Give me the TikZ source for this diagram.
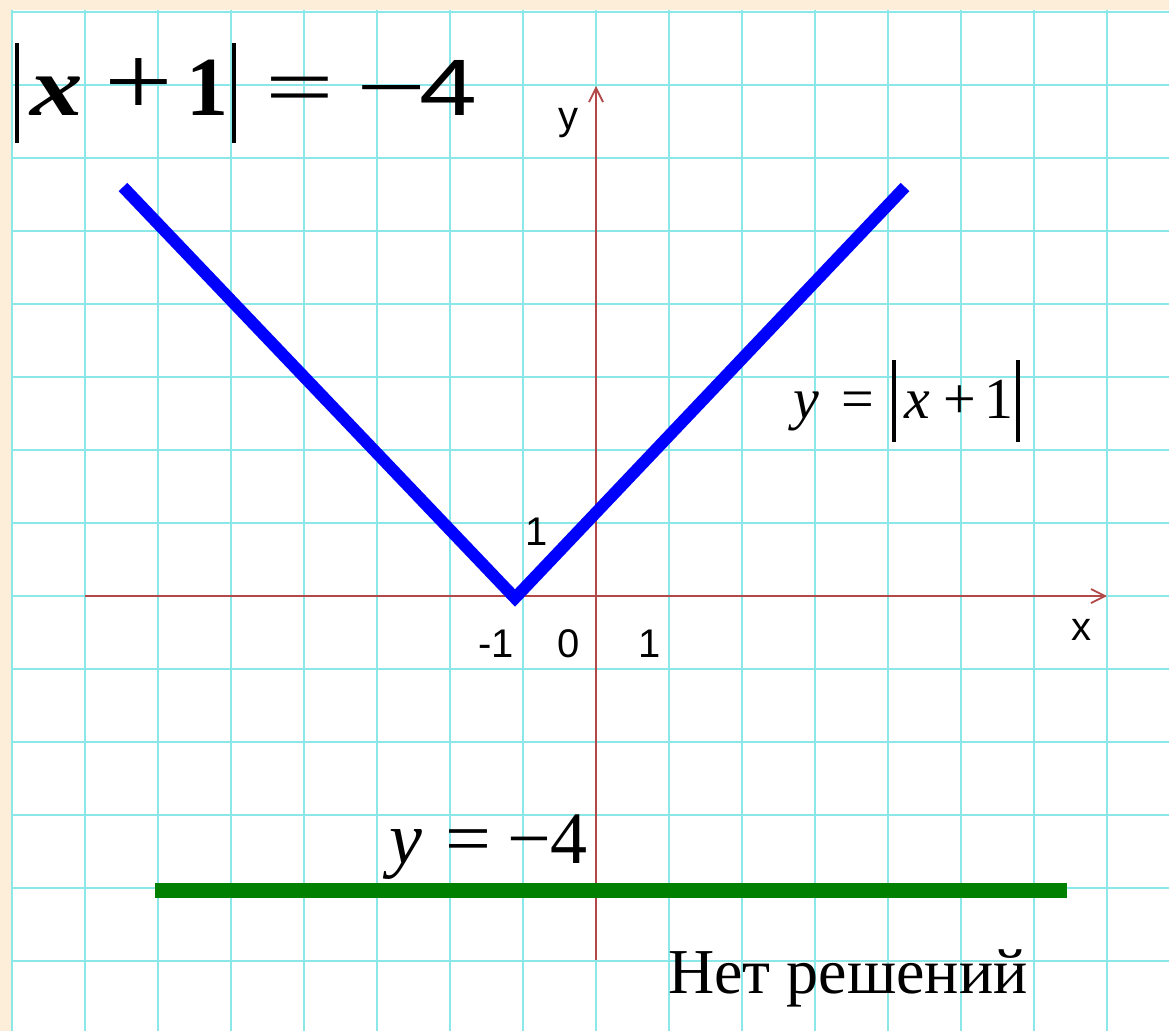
\documentclass[tikz,border=0pt]{standalone}
\usepackage{fontspec}
\usepackage{graphicx}
\setmainfont{Liberation Serif}
\newfontfamily\arialf{Liberation Sans}
\usetikzlibrary{arrows.meta}
\definecolor{peach}{RGB}{252,238,216}
\definecolor{gridc}{RGB}{140,232,232}
\definecolor{axisc}{RGB}{178,72,72}
\definecolor{vblue}{RGB}{0,0,255}
\definecolor{hgreen}{RGB}{0,128,0}
\tikzset{
  gridline/.style={draw=gridc, line width=2.6pt},
  axisline/.style={draw=axisc, line width=2.6pt, -{Straight Barb[length=14pt,width=14pt,line width=1.8pt]}},
  axislbl/.style={font=\arialf\fontsize{40}{44}\selectfont, inner sep=0pt, anchor=base},
  graphline/.style={draw=vblue, line width=12pt, line join=miter},
  greenline/.style={draw=hgreen, line width=15pt},
}
\newcommand{\mybar}[2]{\rule[-#1pt]{4.5pt}{#2pt}}
\begin{document}
\begin{tikzpicture}[x=1pt,y=-1pt]
\useasboundingbox (0,0) rectangle (1169,1031);
\fill[peach] (0,0) rectangle (1169,1031);
\fill[white] (12,10) rectangle (1169,1031);
% grid
\foreach \k in {0,...,15} {
  \draw[gridline] ({12+73*\k},10) -- ({12+73*\k},1031);
}
\foreach \k in {0,...,14} {
  \draw[gridline] (12,{12+73*\k}) -- (1169,{12+73*\k});
}
% axes
\coordinate (xs) at (85,596);
\coordinate (xe) at (1107,596);
\coordinate (ys) at (596,960);
\coordinate (ye) at (596,86);
\draw[axisline] (xs) -- (xe);
\draw[axisline] (ys) -- (ye);
% axis labels
\node[axislbl] (lx) at (1081,640) {x};
\node[axislbl] (ly) at (568,129) {y};
\node[axislbl] (l1y) at (537,545) {1};
\node[axislbl] (lm1) at (496,657) {-1};
\node[axislbl] (l0) at (569,657) {0};
\node[axislbl] (l1x) at (650,657) {1};
% graph
\coordinate (pl) at (123,187);
\coordinate (pv) at (515,598);
\coordinate (pr) at (905,187);
\draw[graphline] (pl) -- (pv) -- (pr);
\coordinate (gl) at (155,890);
\coordinate (gr) at (1067,890);
\draw[greenline] (gl) -- (gr);
% equation top-left
\node[anchor=base west, inner sep=0pt] (eq1) at (12,115) {\fontsize{84}{90}\selectfont
  \makebox[10pt]{\mybar{28}{100}}%
  \makebox[70pt]{\scalebox{1.25}[1.0]{\textbf{\textit{x}}}}%
  \makebox[94pt]{\scalebox{1.45}[1.2]{+}}%
  \makebox[42pt]{\textbf{1}}%
  \makebox[12pt]{\mybar{28}{100}}%
  \makebox[120pt]{\scalebox{1.45}[1.0]{=}}%
  \makebox[62pt]{\scalebox{1.48}[1.0]{−}}%
  \makebox[52pt]{\arialf\fontsize{80}{84}\selectfont\scalebox{1.3}[1.0]{4}}};
% y = |x+1|
\node[anchor=base west, inner sep=0pt] (eq2) at (784,418) {\fontsize{58}{62}\selectfont
  \makebox[44pt]{\textit{y}}%
  \makebox[60pt]{=}%
  \makebox[12pt]{\mybar{24}{82}}%
  \makebox[34pt]{\textit{x}}%
  \makebox[52pt]{+}%
  \makebox[26pt]{1}%
  \makebox[12pt]{\mybar{24}{82}}};
% y = -4
\node[anchor=base west, inner sep=0pt] (eq3) at (380,863) {\fontsize{74}{80}\selectfont
  \makebox[52pt]{\textit{y}}%
  \makebox[72pt]{\scalebox{1.1}[1.0]{=}}%
  \makebox[50pt]{\scalebox{1.05}[1.0]{−}}%
  \makebox[30pt]{4}};
% no solutions
\node[anchor=base west, inner sep=0pt] (ns) at (668,993) {\fontsize{64}{70}\selectfont Нет решений};
\end{tikzpicture}
\end{document}
